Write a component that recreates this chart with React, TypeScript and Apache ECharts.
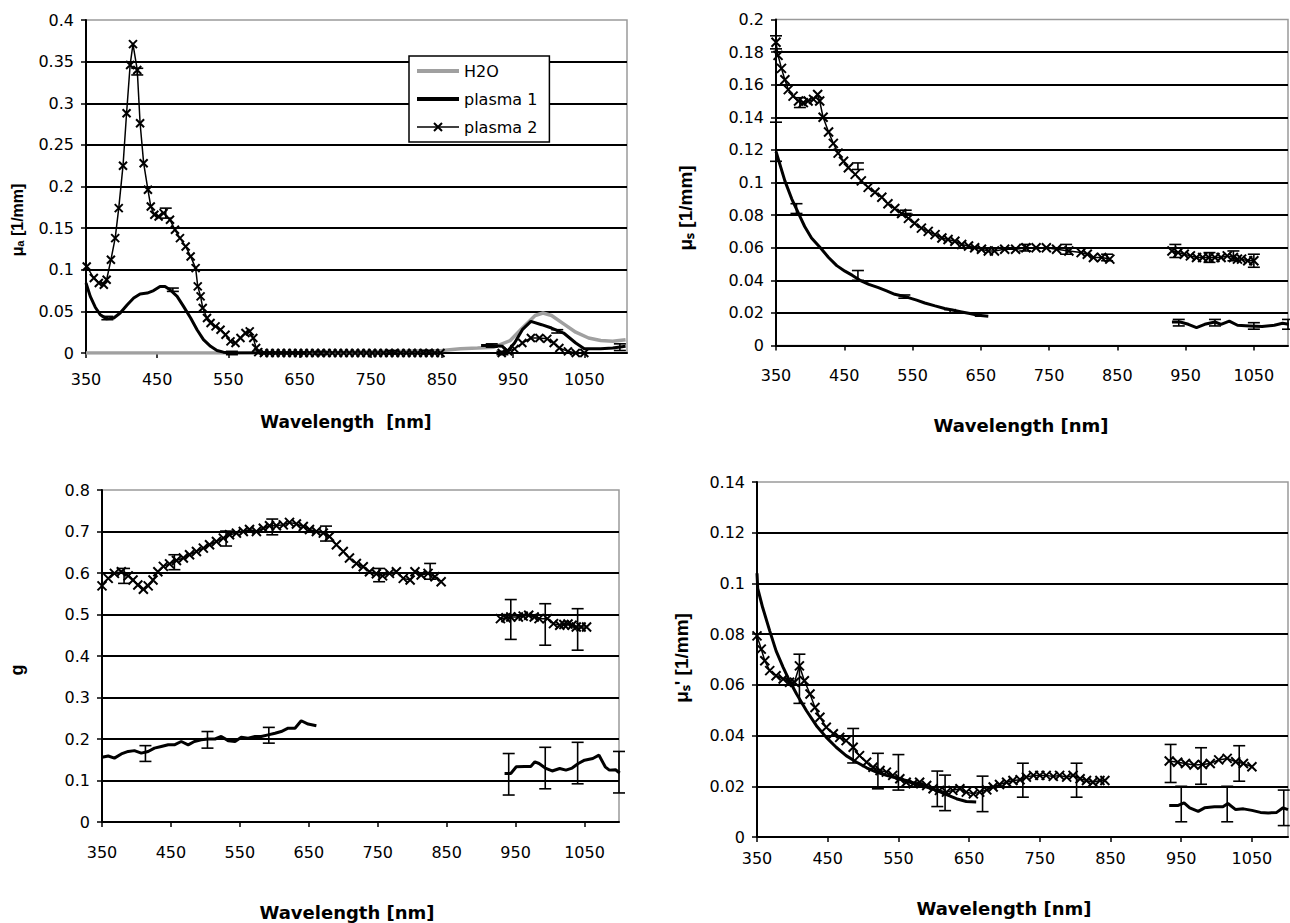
import React, { useEffect, useRef } from 'react';
import * as echarts from 'echarts';

type Pt = [number, number | null];
type Err = [number, number, number]; // wavelength, centre, half-width

const xTickValues = [350, 450, 550, 650, 750, 850, 950, 1050];

// ---------- Panel 1: absorption coefficient mu_a ----------
const muaH2O: Pt[] = [
  [350, 0], [400, 0], [450, 0], [500, 0], [550, 0], [600, 0.0002], [650, 0.0003], [700, 0.0006],
  [750, 0.0015], [800, 0.002], [850, 0.003], [876, 0.005], [900, 0.006], [923, 0.007], [946, 0.015],
  [963, 0.03], [981, 0.045], [992, 0.048], [1004, 0.045], [1021, 0.035], [1038, 0.025], [1056, 0.018],
  [1073, 0.015], [1090, 0.014], [1108, 0.016],
];
const muaPlasma1: Pt[] = [
  [350, 0.084], [356, 0.068], [363, 0.055], [370, 0.046], [379, 0.041], [389, 0.042], [398, 0.048],
  [408, 0.058], [417, 0.066], [426, 0.071], [436, 0.072], [445, 0.075], [454, 0.08], [461, 0.08],
  [468, 0.076], [478, 0.068], [487, 0.056], [497, 0.042], [506, 0.028], [515, 0.016], [525, 0.008],
  [534, 0.003], [543, 0.001], [553, 0], [580, 0], [610, 0], [640, 0], [660, 0], [880, null],
  [905, 0.009], [920, 0.009], [935, 0.008], [942, 0.002], [952, 0.012], [963, 0.028], [975, 0.038],
  [990, 0.034], [1004, 0.03], [1021, 0.024], [1038, 0.012], [1050, 0.005], [1073, 0.005], [1090, 0.006],
  [1108, 0.008],
];
const muaPlasma2: Pt[] = [
  [351, 0.104], [361, 0.09], [368, 0.084], [375, 0.082], [379, 0.088], [385, 0.112], [391, 0.138],
  [396, 0.174], [402, 0.225], [407, 0.288], [412, 0.346], [416, 0.371], [422, 0.34], [426, 0.276],
  [431, 0.228], [437, 0.196], [441, 0.176], [446, 0.166], [452, 0.164], [459, 0.168], [468, 0.16],
  [475, 0.148], [482, 0.138], [490, 0.128], [497, 0.116], [504, 0.102], [507, 0.08], [511, 0.068],
  [514, 0.054], [520, 0.042], [525, 0.036], [532, 0.032], [539, 0.028], [546, 0.022], [553, 0.014],
  [560, 0.012], [567, 0.018], [574, 0.024], [580, 0.026], [585, 0.018], [589, 0.006], [592, 0.001],
  [600, 0], [608, 0], [616, 0], [624, 0], [632, 0], [640, 0], [648, 0], [656, 0], [664, 0], [672, 0],
  [680, 0], [688, 0], [696, 0], [704, 0], [712, 0], [720, 0], [728, 0], [736, 0], [744, 0], [752, 0],
  [760, 0], [768, 0], [776, 0], [784, 0], [792, 0], [800, 0], [808, 0], [816, 0], [824, 0], [832, 0],
  [840, 0], [848, 0], [890, null],
  [934, 0], [943, 0.002], [952, 0.005], [963, 0.012], [975, 0.018], [987, 0.018], [998, 0.017],
  [1007, 0.012], [1015, 0.006], [1027, 0.002], [1038, 0], [1050, 0],
];
const muaErrPlasma1: Err[] = [
  [380, 0.042, 0.002], [472, 0.076, 0.002], [555, 0, 0.002], [920, 0.009, 0.002], [1012, 0.026, 0.002], [1100, 0.007, 0.004],
];
const muaErrPlasma2: Err[] = [
  [422, 0.338, 0.004], [462, 0.168, 0.006], [680, 0, 0.002], [780, 0.001, 0.002], [830, 0.001, 0.002], [935, 0, 0.002],
];

// ---------- Panel 2: scattering coefficient mu_s ----------
const musPlasma1: Pt[] = [
  [350, 0.119], [363, 0.101], [373, 0.09], [383, 0.081], [392, 0.073], [402, 0.066], [415, 0.06],
  [427, 0.054], [439, 0.049], [451, 0.0456], [462, 0.043], [473, 0.04], [486, 0.0375], [500, 0.0355],
  [512, 0.0335], [524, 0.0314], [544, 0.0294], [556, 0.0278], [568, 0.0261], [583, 0.0243], [597, 0.0227],
  [610, 0.0216], [622, 0.0206], [634, 0.0196], [646, 0.0186], [661, 0.018], [800, null],
  [930, 0.0144], [942, 0.0144], [954, 0.013], [966, 0.011], [978, 0.013], [993, 0.0144], [1002, 0.013],
  [1014, 0.015], [1026, 0.0124], [1044, 0.012], [1062, 0.0116], [1080, 0.0124], [1092, 0.0136], [1101, 0.013],
];
const musPlasma2: Pt[] = [
  [350, 0.186], [353, 0.178], [358, 0.17], [363, 0.163], [368, 0.157], [375, 0.153], [383, 0.15],
  [390, 0.149], [397, 0.15], [405, 0.151], [411, 0.154], [414, 0.15], [419, 0.14], [427, 0.131],
  [434, 0.124], [441, 0.118], [449, 0.113], [456, 0.109], [466, 0.105], [475, 0.101], [485, 0.097],
  [495, 0.094], [505, 0.091], [514, 0.087], [524, 0.084], [534, 0.081], [544, 0.078], [553, 0.075],
  [563, 0.072], [573, 0.07], [583, 0.068], [593, 0.066], [602, 0.065], [612, 0.064], [622, 0.062],
  [632, 0.061], [641, 0.06], [651, 0.059], [661, 0.058], [670, 0.058], [685, 0.059], [701, 0.059],
  [716, 0.06], [731, 0.06], [746, 0.06], [761, 0.059], [779, 0.058], [797, 0.057], [806, 0.056],
  [815, 0.054], [827, 0.054], [839, 0.053], [880, null],
  [930, 0.058], [939, 0.057], [948, 0.056], [957, 0.055], [966, 0.054], [975, 0.054], [984, 0.054],
  [993, 0.054], [1002, 0.054], [1011, 0.055], [1020, 0.054], [1026, 0.053], [1032, 0.053], [1041, 0.052],
  [1050, 0.052],
];
const musErrPlasma1: Err[] = [
  [350, 0.125, 0.012], [380, 0.084, 0.003], [470, 0.043, 0.003], [538, 0.03, 0.001], [605, 0.021, 0.001],
  [650, 0.019, 0.001], [940, 0.014, 0.002], [993, 0.014, 0.002], [1050, 0.012, 0.002], [1100, 0.013, 0.003],
];
const musErrPlasma2: Err[] = [
  [350, 0.186, 0.004], [385, 0.149, 0.003], [470, 0.11, 0.002], [540, 0.082, 0.001], [715, 0.06, 0.002],
  [775, 0.059, 0.003], [835, 0.054, 0.002], [935, 0.058, 0.004], [985, 0.054, 0.003], [1020, 0.055, 0.003],
  [1050, 0.052, 0.004],
];

// ---------- Panel 3: anisotropy g ----------
const gPlasma1: Pt[] = [
  [350, 0.156], [359, 0.159], [368, 0.154], [378, 0.164], [388, 0.17], [397, 0.172], [407, 0.166],
  [417, 0.17], [426, 0.178], [436, 0.182], [446, 0.186], [455, 0.186], [465, 0.194], [475, 0.186],
  [484, 0.194], [494, 0.198], [504, 0.2], [514, 0.2], [523, 0.206], [533, 0.196], [543, 0.194],
  [552, 0.204], [562, 0.202], [572, 0.206], [581, 0.206], [591, 0.21], [601, 0.214], [610, 0.218],
  [620, 0.226], [630, 0.226], [639, 0.244], [649, 0.236], [661, 0.232], [800, null],
  [934, 0.117], [943, 0.117], [951, 0.133], [963, 0.134], [972, 0.134], [978, 0.145], [984, 0.141],
  [993, 0.13], [1003, 0.123], [1014, 0.129], [1023, 0.125], [1032, 0.13], [1041, 0.141], [1050, 0.149],
  [1062, 0.153], [1071, 0.161], [1080, 0.133], [1086, 0.125], [1095, 0.126], [1101, 0.118],
];
const gPlasma2: Pt[] = [
  [350, 0.569], [359, 0.587], [368, 0.599], [378, 0.603], [388, 0.593], [395, 0.583], [402, 0.571],
  [410, 0.561], [417, 0.569], [424, 0.583], [431, 0.603], [439, 0.616], [448, 0.622], [458, 0.63],
  [468, 0.636], [477, 0.644], [487, 0.652], [497, 0.66], [506, 0.668], [516, 0.676], [526, 0.684],
  [535, 0.692], [545, 0.696], [555, 0.7], [564, 0.705], [574, 0.7], [584, 0.708], [593, 0.714],
  [603, 0.714], [613, 0.716], [622, 0.722], [632, 0.718], [642, 0.712], [651, 0.705], [661, 0.7],
  [671, 0.696], [680, 0.688], [690, 0.668], [700, 0.652], [709, 0.636], [719, 0.623], [729, 0.615],
  [738, 0.603], [748, 0.598], [757, 0.593], [767, 0.599], [777, 0.603], [787, 0.587], [797, 0.583],
  [804, 0.603], [813, 0.595], [823, 0.599], [833, 0.591], [842, 0.579], [880, null],
  [928, 0.49], [936, 0.492], [943, 0.494], [954, 0.494], [961, 0.496], [969, 0.498], [977, 0.494],
  [984, 0.49], [996, 0.49], [1005, 0.478], [1014, 0.474], [1020, 0.476], [1026, 0.477], [1032, 0.474],
  [1038, 0.47], [1045, 0.47], [1053, 0.47],
];
const gErrPlasma1: Err[] = [
  [413, 0.165, 0.019], [503, 0.198, 0.02], [592, 0.209, 0.019],
  [940, 0.115, 0.05], [993, 0.13, 0.05], [1040, 0.142, 0.05], [1100, 0.12, 0.05],
];
const gErrPlasma2: Err[] = [
  [382, 0.593, 0.018], [455, 0.626, 0.018], [530, 0.683, 0.018], [597, 0.711, 0.019], [675, 0.695, 0.018],
  [752, 0.595, 0.016], [826, 0.604, 0.019], [943, 0.488, 0.048], [993, 0.476, 0.05], [1040, 0.464, 0.05],
];

// ---------- Panel 4: reduced scattering coefficient mu_s' ----------
const muspPlasma1: Pt[] = [
  [350, 0.104], [351, 0.098], [358, 0.0905], [368, 0.0813], [377, 0.0734], [387, 0.0669], [396, 0.0616],
  [406, 0.0564], [420, 0.0498], [434, 0.0439], [448, 0.0393], [462, 0.0354], [476, 0.0321], [491, 0.0295],
  [505, 0.0273], [519, 0.0256], [533, 0.0243], [547, 0.0232], [561, 0.0223], [575, 0.021], [590, 0.0197],
  [604, 0.0184], [618, 0.0167], [632, 0.0151], [646, 0.014], [660, 0.0138], [800, null],
  [933, 0.0124], [945, 0.0124], [954, 0.0135], [962, 0.0115], [974, 0.0101], [983, 0.0115], [997, 0.0119],
  [1009, 0.0119], [1016, 0.0132], [1027, 0.0108], [1038, 0.0111], [1050, 0.0105], [1062, 0.0097],
  [1073, 0.0095], [1085, 0.0097], [1094, 0.0115], [1101, 0.0108],
];
const muspPlasma2: Pt[] = [
  [350, 0.0793], [356, 0.0741], [361, 0.0695], [368, 0.0656], [377, 0.0636], [387, 0.0623], [396, 0.061],
  [403, 0.061], [410, 0.0675], [417, 0.0616], [425, 0.0564], [432, 0.0511], [439, 0.0472], [448, 0.0433],
  [458, 0.0407], [467, 0.0393], [476, 0.038], [486, 0.0354], [495, 0.0321], [505, 0.0295], [514, 0.0275],
  [524, 0.0262], [533, 0.0256], [542, 0.0243], [552, 0.023], [561, 0.0216], [571, 0.021], [580, 0.0216],
  [590, 0.0203], [599, 0.019], [608, 0.0184], [618, 0.0177], [627, 0.0184], [637, 0.019], [646, 0.0177],
  [656, 0.017], [665, 0.0177], [675, 0.0186], [684, 0.0197], [693, 0.0207], [703, 0.0216], [712, 0.0223],
  [722, 0.0226], [731, 0.0236], [741, 0.0243], [750, 0.0243], [759, 0.0243], [769, 0.0239], [778, 0.0243],
  [788, 0.0236], [797, 0.0243], [807, 0.023], [816, 0.0223], [825, 0.0216], [835, 0.0223], [842, 0.0223],
  [880, null],
  [933, 0.03], [945, 0.0295], [956, 0.029], [968, 0.0284], [980, 0.0286], [991, 0.029], [1003, 0.0304],
  [1015, 0.031], [1027, 0.0297], [1038, 0.029], [1050, 0.0277],
];
const muspErrPlasma1: Err[] = [
  [521, 0.026, 0.007], [616, 0.0174, 0.007], [950, 0.013, 0.007], [1015, 0.013, 0.007], [1095, 0.0115, 0.007],
];
const muspErrPlasma2: Err[] = [
  [410, 0.0624, 0.0097], [486, 0.036, 0.0068], [550, 0.0255, 0.007], [605, 0.019, 0.007], [669, 0.017, 0.007],
  [726, 0.0224, 0.0067], [802, 0.0224, 0.0067], [935, 0.029, 0.0075], [978, 0.028, 0.0072], [1032, 0.029, 0.007],
];

// ---------- layout ----------
const grids = [
  { left: 86, top: 20, width: 541, height: 333, xMax: 1110, yMax: 0.4, yStep: 0.05, labelMargin: 18 },
  { left: 776, top: 19.5, width: 512, height: 326, xMax: 1100, yMax: 0.2, yStep: 0.02, labelMargin: 22 },
  { left: 102, top: 490, width: 517, height: 332, xMax: 1100, yMax: 0.8, yStep: 0.1, labelMargin: 22 },
  { left: 757, top: 482, width: 531, height: 355, xMax: 1101, yMax: 0.14, yStep: 0.02, labelMargin: 13 },
];

const X_MARK = 'path://M0 0L10 10M10 0L0 10';
const TICK_FONT = 'DejaVu Sans';

function errRange(e: Err[]) {
  return e.map(([x, c, d]) => [x, c - d, c + d]);
}

function errorSeries(idx: number, e: Err[], cap: number) {
  return {
    type: 'custom',
    xAxisIndex: idx,
    yAxisIndex: idx,
    silent: true,
    z: 6,
    encode: { x: 0, y: [1, 2] },
    data: errRange(e),
    renderItem: (_params: any, api: any) => {
      const x = api.value(0);
      const lo = api.coord([x, api.value(1)]);
      const hi = api.coord([x, api.value(2)]);
      const st = { stroke: '#000', lineWidth: 1.6 };
      return {
        type: 'group',
        children: [
          { type: 'line', shape: { x1: lo[0], y1: lo[1], x2: hi[0], y2: hi[1] }, style: st },
          { type: 'line', shape: { x1: lo[0] - cap, y1: lo[1], x2: lo[0] + cap, y2: lo[1] }, style: st },
          { type: 'line', shape: { x1: hi[0] - cap, y1: hi[1], x2: hi[0] + cap, y2: hi[1] }, style: st },
        ],
      };
    },
  };
}

function solidSeries(idx: number, name: string, data: Pt[], color = '#000', width = 3) {
  return {
    type: 'line',
    name,
    xAxisIndex: idx,
    yAxisIndex: idx,
    data,
    symbol: 'none',
    connectNulls: false,
    lineStyle: { color, width },
    itemStyle: { color },
    z: 3,
  };
}

function markerSeries(idx: number, name: string, data: Pt[], size: number, lineWidth: number) {
  return {
    type: 'line',
    name,
    xAxisIndex: idx,
    yAxisIndex: idx,
    data,
    symbol: X_MARK,
    symbolSize: size,
    showSymbol: true,
    connectNulls: false,
    lineStyle: { color: '#000', width: lineWidth },
    itemStyle: { color: '#000', borderColor: '#000', borderWidth: 2 },
    z: 4,
  };
}

export default function App() {
  const ref = useRef<HTMLDivElement>(null);

  useEffect(() => {
    if (!ref.current) return;
    const chart = echarts.init(ref.current, null, { renderer: 'svg' });

    const xAxes = grids.map((g, i) => ({
      type: 'value',
      gridIndex: i,
      min: 350,
      max: g.xMax,
      interval: 100,
      axisLine: { show: true, onZero: false, lineStyle: { color: '#000', width: 2 } },
      axisTick: { show: true, inside: false, length: 5, customValues: xTickValues, lineStyle: { color: '#000', width: 1.5 } },
      axisLabel: {
        show: true,
        margin: g.labelMargin,
        color: '#000',
        fontFamily: TICK_FONT,
        fontSize: 16,
        customValues: xTickValues,
        formatter: (v: number) => String(v),
      },
      splitLine: { show: false },
    }));

    const yAxes = grids.map((g, i) => ({
      type: 'value',
      gridIndex: i,
      min: 0,
      max: g.yMax,
      interval: g.yStep,
      axisLine: { show: true, lineStyle: { color: '#000', width: 2 } },
      axisTick: { show: true, inside: false, length: 5, lineStyle: { color: '#000', width: 1.5 } },
      axisLabel: { margin: 12, color: '#000', fontFamily: TICK_FONT, fontSize: 16 },
      splitLine: { show: true, showMaxLine: false, showMinLine: false, lineStyle: { color: '#000', width: 2 } },
    }));

    const titleStyle = (size: number, family = 'DejaVu Sans') => ({
      fontFamily: family,
      fontWeight: 'bold',
      fontSize: size,
      fill: '#000',
      textAlign: 'center',
      textVerticalAlign: 'middle',
    });

    const option: any = {
      animation: false,
      backgroundColor: '#fff',
      grid: grids.map((g) => ({
        left: g.left,
        top: g.top,
        width: g.width,
        height: g.height,
        show: true,
        borderColor: '#9a9a9a',
        borderWidth: 1.5,
        backgroundColor: '#fff',
        containLabel: false,
      })),
      xAxis: xAxes,
      yAxis: yAxes,
      legend: {
        show: true,
        orient: 'vertical',
        left: 409,
        top: 56,
        padding: [7, 12, 7, 6],
        itemGap: 12,
        itemWidth: 42,
        itemHeight: 10,
        backgroundColor: '#fff',
        borderColor: '#000',
        borderWidth: 1.5,
        borderRadius: 0,
        textStyle: { fontFamily: 'DejaVu Sans', fontSize: 16, color: '#000' },
        data: [
          { name: 'H2O', lineStyle: { width: 4, color: '#a0a0a0' }, itemStyle: { opacity: 0 } },
          { name: 'plasma 1', lineStyle: { width: 4, color: '#000' }, itemStyle: { opacity: 0 } },
          { name: 'plasma 2', lineStyle: { width: 1.5, color: '#000' } },
        ],
      },
      series: [
        solidSeries(0, 'H2O', muaH2O, '#a0a0a0', 3.5),
        solidSeries(0, 'plasma 1', muaPlasma1),
        markerSeries(0, 'plasma 2', muaPlasma2, 8, 1.5),
        errorSeries(0, muaErrPlasma1, 6),
        errorSeries(0, muaErrPlasma2, 6),

        solidSeries(1, 'plasma 1', musPlasma1),
        markerSeries(1, 'plasma 2', musPlasma2, 9, 1.5),
        errorSeries(1, musErrPlasma1, 6),
        errorSeries(1, musErrPlasma2, 6),

        solidSeries(2, 'plasma 1', gPlasma1),
        markerSeries(2, 'plasma 2', gPlasma2, 9, 1.5),
        errorSeries(2, gErrPlasma1, 6),
        errorSeries(2, gErrPlasma2, 6),

        solidSeries(3, 'plasma 1', muspPlasma1),
        markerSeries(3, 'plasma 2', muspPlasma2, 9, 1.5),
        errorSeries(3, muspErrPlasma1, 6),
        errorSeries(3, muspErrPlasma2, 6),
      ],
      graphic: [
        { type: 'text', x: 346, y: 422, style: { text: 'Wavelength  [nm]', ...titleStyle(17) } },
        { type: 'text', x: 1021, y: 425, style: { text: 'Wavelength [nm]', ...titleStyle(18) } },
        { type: 'text', x: 347, y: 912, style: { text: 'Wavelength [nm]', ...titleStyle(18) } },
        { type: 'text', x: 1004, y: 908, style: { text: 'Wavelength [nm]', ...titleStyle(18) } },
        { type: 'text', x: 17, y: 220, rotation: Math.PI / 2, style: { text: 'μₐ [1/mm]', ...titleStyle(16, 'Liberation Sans') } },
        { type: 'text', x: 685, y: 208, rotation: Math.PI / 2, style: { text: 'μₛ [1/mm]', ...titleStyle(19, 'Liberation Sans') } },
        { type: 'text', x: 17, y: 670, rotation: Math.PI / 2, style: { text: 'g', ...titleStyle(18, 'Liberation Sans') } },
        { type: 'text', x: 681, y: 658, rotation: Math.PI / 2, style: { text: "μₛ' [1/mm]", ...titleStyle(19, 'Liberation Sans') } },
      ],
    };

    chart.setOption(option);
    return () => chart.dispose();
  }, []);

  return (
    <div
      ref={ref}
      style={{ position: 'fixed', left: 0, top: 0, width: 1290, height: 923, background: '#fff' }}
    />
  );
}
